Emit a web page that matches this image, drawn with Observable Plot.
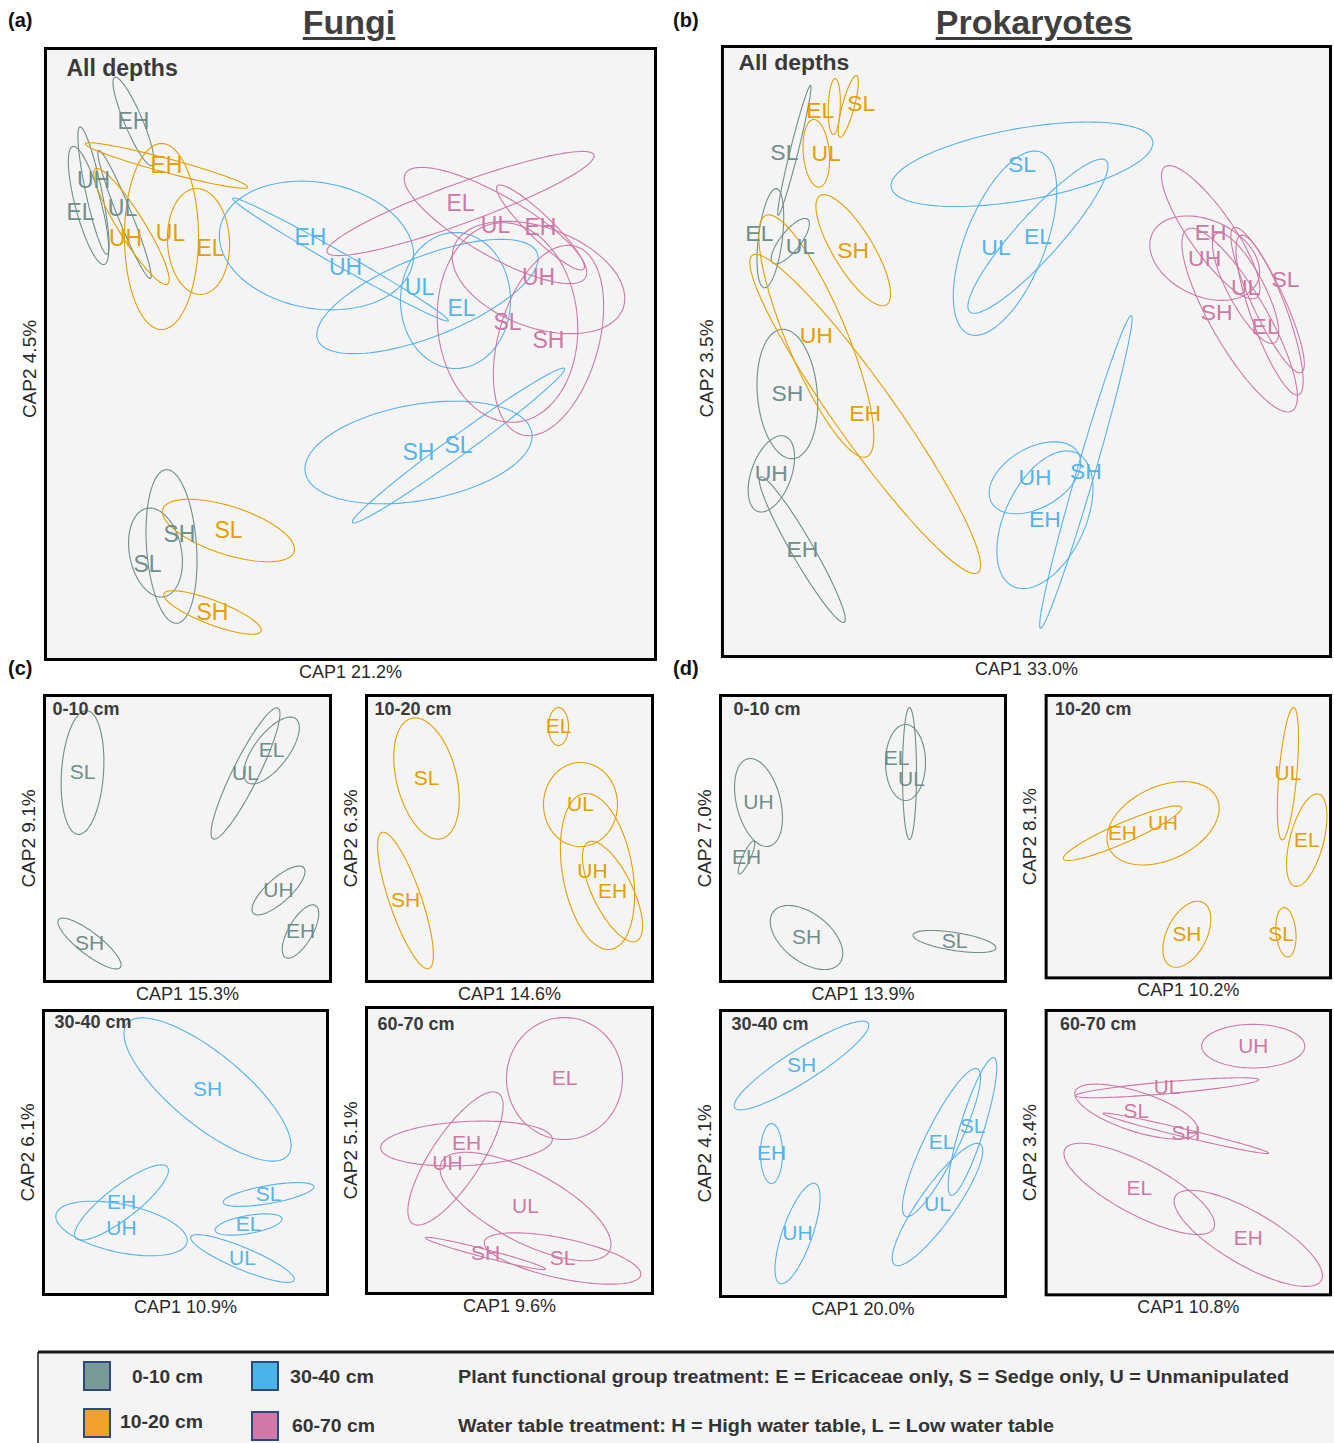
<!DOCTYPE html>
<html><head><meta charset="utf-8">
<script src="https://cdn.jsdelivr.net/npm/d3@7"></script>
<script src="https://cdn.jsdelivr.net/npm/@observablehq/plot@0.6"></script>
<style>
body{margin:0;background:#fff;overflow:hidden;font-family:"Liberation Sans",Arial,sans-serif}
#root{position:relative;width:1334px;height:1443px;overflow:hidden}
.pane{position:absolute}
.title{position:absolute;font-weight:bold;font-size:34px;line-height:1;color:#3f3f3f;text-decoration:underline;text-decoration-thickness:3px;text-underline-offset:3px;transform:translate(-50%,-50%);white-space:nowrap}
.letter{position:absolute;font-weight:bold;font-size:20px;line-height:1;color:#111;transform:translateY(-50%)}
</style></head>
<body><div id="root"></div>
<script>
// ---------- data ----------
const depths = ["0-10 cm", "10-20 cm", "30-40 cm", "60-70 cm"];
const depthColors = ["#6f8f8b", "#e69f00", "#56b4e9", "#cc79a7"];
const swatchColors = ["#789995", "#f0a12a", "#4ab4e8", "#d078a8"];

// ellipse rows (all depths): [depth, group, centroid CAP1, centroid CAP2, semi-major, semi-minor, angle°, label dx, label dy]
const fungiAll = [
  [0,"EH",88,538,48,9,113],
  [0,"UH",48,469,65,8,102,0,10],
  [0,"EL",43,454,61,13,105,-8,-7],
  [0,"UL",79,445,69,7,112,-2,6],
  [0,"SH",126,113,77,25,94,8,12],
  [0,"SL",110,107,45,26,101,-8,-12],
  [1,"EH",121,494,84,7,-15],
  [1,"UL",116,423,93,37,90,9,3],
  [1,"UH",86,433,68,13,122,-6,-12],
  [1,"EL",153,418,53,31,93,12,-7],
  [1,"SL",183,129,69,24,-18],
  [1,"SH",167,47,52,12,-21],
  [2,"EH",271,414,98,63,-10,-6,8],
  [2,"UH",295,400,124,7,-29.6,5,-8],
  [2,"UL",382,363,118,40,21.6,-8,9],
  [2,"EL",410,359,68,55,90,6,-8],
  [2,"SH",373,207,115,48,10],
  [2,"SL",413,214,131,10,36],
  [3,"EL",415,456,142,20,20],
  [3,"UL",450,434,104,30,-30],
  [3,"EH",495,432,60,12,-44],
  [3,"UH",493,382,90,50,-20],
  [3,"SL",462,337,100,70,95],
  [3,"SH",503,319,98,50,74]
];
const prokAll = [
  [0,"SL",72,507,67,4,76,-10,-2],
  [0,"EL",48,419,50,12,83,-11,5],
  [0,"UL",68,416,28,10,51.5,10,-5],
  [0,"SH",65,263,65,30,95],
  [0,"UH",49,183,40,20,70],
  [0,"EH",80,107,84,11,120],
  [1,"EL",112,551,28,6,88,-14,-4],
  [1,"SL",126,551,32,6,75,13,3],
  [1,"UL",94,504,34,13,95,10,0],
  [1,"SH",131,407,64,20,-58.7],
  [1,"UH",94,321,131,30,-67.3],
  [1,"EH",143,243,195,30,-54.6],
  [2,"SL",300,493,133,36,10],
  [2,"UL",283,414,98,40,68.4,-9,-4],
  [2,"EL",316,421,102,22,48],
  [2,"SH",364,185,163,9,73.8],
  [2,"UH",313,179,50,30,30],
  [2,"EH",323,137,74,40,64.5],
  [3,"EH",489,425,80,22,-55],
  [3,"UH",483,399,58,38,-25],
  [3,"UL",524,369,62,18,-62],
  [3,"SL",546,357,80,16,-65,18,20],
  [3,"SH",518,337,105,28,-60,-23,7],
  [3,"EL",548,342,85,18,-70,-4,-12]
];
// single-depth rows: [group, CAP1, CAP2, semi-major, semi-minor, angle°, label dx, label dy]
const fungi0_10 = [
  ["SL",38,209,62,21,86],
  ["UL",201,208,73,13,63.6],
  ["EL",227,231,40,17,52.6],
  ["UH",234,91,34,12,42],
  ["EH",256,50,30,12,60],
  ["SH",45,38,39,11,-37.7]
];
const fungi10_20 = [
  ["EL",192,255,19,10,90],
  ["SL",60,203,62,30,104],
  ["UL",214,177,42,37,90],
  ["UH",231,110,79,35,100,-5,0],
  ["EH",246,90,55,20,116],
  ["SH",39,81,72,16,109]
];
const fungi30_40 = [
  ["SH",164,205,104,36,-39.4],
  ["EH",78,92,58,16,37.7],
  ["UH",78,66,67,24,-12],
  ["SL",225,100,46,9,10],
  ["EL",205,70,34,9,10],
  ["UL",199,36,56,11,-22.7]
];
const fungi60_70 = [
  ["EL",198,215,61,58,90],
  ["EH",100,150,86,22,3],
  ["UH",89,135,78,25,56.7,-8,-5],
  ["UL",159,87,95,35,-28],
  ["SH",119,40,62,4,-14.6],
  ["SL",196,35,80,20,-12]
];
const prok0_10 = [
  ["EL",185,219,38,20,90,-9,4],
  ["UL",189,208,66,7,90,2,-6],
  ["UH",38,179,45,22,104],
  ["EH",26,124,18,4,65.6],
  ["SH",86,44,42,24,-38],
  ["SL",234,40,42,9,-9]
];
const prok10_20 = [
  ["UL",244,206,67,9,85],
  ["EL",263,139,48,17,75.5],
  ["UH",118,156,60,37,25],
  ["EH",77,146,65,10,23.6],
  ["SH",142,44,36,20,63],
  ["SL",242,46,25,10,95,-5,-2]
];
const prok30_40 = [
  ["SH",81,231,79,16,32.3],
  ["EH",51,143,30,11,90],
  ["UH",77,63,53,15,70.7],
  ["EL",221,154,82,17,64],
  ["SL",252,170,72,12,72.7],
  ["UL",217,92,74,18,54.6]
];
const prok60_70 = [
  ["UH",209,251,52,22,0],
  ["UL",122,209,93,6,5],
  ["SL",91,185,65,20,-18],
  ["SH",141,163,86,4,-13.5],
  ["EL",94,107,85,26,-28],
  ["EH",204,57,85,27,-30]
];

const panelTags = ["All depths","All depths","0-10 cm","10-20 cm","30-40 cm","60-70 cm","0-10 cm","10-20 cm","30-40 cm","60-70 cm"];
const cap1Labels = ["CAP1 21.2%","CAP1 33.0%","CAP1 15.3%","CAP1 14.6%","CAP1 10.9%","CAP1 9.6%","CAP1 13.9%","CAP1 10.2%","CAP1 20.0%","CAP1 10.8%"];
const cap2Labels = ["CAP2 4.5%","CAP2 3.5%","CAP2 9.1%","CAP2 6.3%","CAP2 6.1%","CAP2 5.1%","CAP2 7.0%","CAP2 8.1%","CAP2 4.1%","CAP2 3.4%"];
const titles = ["Fungi", "Prokaryotes"];
const letters = ["(a)","(b)","(c)","(d)"];
const legendTexts = ["Plant functional group treatment:  E = Ericaceae  only, S = Sedge only, U = Unmanipulated",
                     "Water table treatment: H = High water table, L = Low water table"];

// ---------- layout ----------
const layout = [
  {rows: fungiAll,   depth: null, L:45,   T:48,   W:610, H:611, big:true,  tx:21, ty:20, ydy:15},
  {rows: prokAll,    depth: null, L:722,  T:46,   W:609, H:611, big:true,  tx:16, ty:16, ydy:17},
  {rows: fungi0_10,  depth: 0, L:44,   T:695,  W:286, H:286, tx:8,  ty:14},
  {rows: fungi10_20, depth: 1, L:366,  T:695,  W:286, H:286, tx:8,  ty:14},
  {rows: fungi30_40, depth: 2, L:43,   T:1010, W:284, H:284, tx:11, ty:12},
  {rows: fungi60_70, depth: 3, L:366,  T:1007, W:286, H:286, tx:11, ty:17},
  {rows: prok0_10,   depth: 0, L:720,  T:695,  W:285, H:286, tx:13, ty:14},
  {rows: prok10_20,  depth: 1, L:1046, T:695,  W:287, H:285, tx:9,  ty:14},
  {rows: prok30_40,  depth: 2, L:720,  T:1010, W:285, H:286, tx:11, ty:14},
  {rows: prok60_70,  depth: 3, L:1046, T:1010, W:287, H:287, tx:14, ty:14}
];

const root = document.getElementById("root");
const FONT = "Liberation Sans, Arial, sans-serif";

function normalize(rows, depth) {
  return rows.map((r, i) => {
    const v = depth === null ? r : [depth, ...r];
    const [d, g, cx, cy, a, b, ang, ldx = 0, ldy = 0] = v;
    return {id: i, depth: depths[d], group: g, cx, cy, a, b, ang, lx: cx + ldx, ly: cy + ldy};
  });
}
function outline(ells) {
  const pts = [], N = 120;
  for (const e of ells) {
    const th = e.ang * Math.PI / 180, c = Math.cos(th), s = Math.sin(th);
    for (let k = 0; k <= N; k++) {
      const t = 2 * Math.PI * k / N;
      pts.push({id: e.id, depth: e.depth,
        x: e.cx + e.a * c * Math.cos(t) - e.b * s * Math.sin(t),
        y: e.cy + e.a * s * Math.cos(t) + e.b * c * Math.sin(t)});
    }
  }
  return pts;
}

layout.forEach((p, i) => {
  const ml = 40, mr = 4, mt = 4, mb = 28;
  const ells = normalize(p.rows, p.depth);
  const chart = Plot.plot({
    width: p.W + ml + mr, height: p.H + mt + mb,
    marginLeft: ml, marginRight: mr, marginTop: mt, marginBottom: mb,
    x: {domain: [0, p.W], axis: null},
    y: {domain: [0, p.H], axis: null},
    color: {domain: depths, range: depthColors},
    style: {background: "transparent", fontFamily: FONT, overflow: "visible"},
    marks: [
      Plot.frame({fill: "#f4f4f4", stroke: "none"}),
      Plot.line(outline(ells), {x: "x", y: "y", z: "id", stroke: "depth", strokeWidth: 1.1, clip: true}),
      Plot.text(ells, {x: "lx", y: "ly", text: "group", fill: "depth", fontSize: p.big ? 23 : 21}),
      Plot.frame({stroke: "#000", strokeWidth: 3}),
      Plot.text([panelTags[i]], {frameAnchor: "top-left", textAnchor: "start", lineAnchor: "middle", dx: p.tx, dy: p.ty,
        fontWeight: "bold", fontSize: p.big ? 23 : 18, fill: "#3a3a3a"}),
      Plot.text([cap1Labels[i]], {frameAnchor: "bottom", lineAnchor: "middle", dy: 13, fontSize: 18, fill: "#2a2a2a"}),
      Plot.text([cap2Labels[i]], {frameAnchor: "left", textAnchor: "middle", lineAnchor: "middle", rotate: -90,
        dx: -16, dy: p.ydy || 0, fontSize: 19, fill: "#2a2a2a"})
    ]
  });
  const div = document.createElement("div");
  div.className = "pane";
  div.style.left = (p.L - ml) + "px";
  div.style.top = (p.T - mt) + "px";
  div.appendChild(chart);
  root.appendChild(div);
});

// titles and panel letters
[[titles[0], 349, 22], [titles[1], 1034, 22]].forEach(([t, x, y]) => {
  const d = document.createElement("div");
  d.className = "title"; d.textContent = t;
  d.style.left = x + "px"; d.style.top = y + "px";
  root.appendChild(d);
});
[[letters[0], 8, 20], [letters[1], 673, 20], [letters[2], 8, 668], [letters[3], 673, 668]].forEach(([t, x, y]) => {
  const d = document.createElement("div");
  d.className = "letter"; d.textContent = t;
  d.style.left = x + "px"; d.style.top = y + "px";
  root.appendChild(d);
});

// legend box
const leg = d3.create("svg").attr("width", 1334).attr("height", 100)
  .style("position", "absolute").style("left", "0px").style("top", "1346px");
leg.append("rect").attr("x", 38).attr("y", 6).attr("width", 1300).attr("height", 100).attr("fill", "#f4f4f4");
leg.append("line").attr("x1", 38).attr("x2", 1334).attr("y1", 6).attr("y2", 6).attr("stroke", "#1a1a1a").attr("stroke-width", 3);
leg.append("line").attr("x1", 38).attr("x2", 38).attr("y1", 6).attr("y2", 100).attr("stroke", "#1a1a1a").attr("stroke-width", 1.5);
const sw = [[84, 1362, 132, 1378, 71], [84, 1409, 120, 1423, 83], [252, 1362, 290, 1378, 84], [252, 1412, 292, 1427, 83]];
sw.forEach(([sx, sy, tx, ty, tl], k) => {
  leg.append("rect").attr("x", sx).attr("y", sy - 1346).attr("width", 26).attr("height", 28)
    .attr("fill", swatchColors[k]).attr("stroke", "#2c4a7c").attr("stroke-width", 2);
  leg.append("text").attr("x", tx).attr("y", ty - 1346).attr("dominant-baseline", "middle")
    .attr("font-family", FONT).attr("font-weight", "bold").attr("font-size", 18).attr("fill", "#333")
    .attr("textLength", tl).attr("lengthAdjust", "spacingAndGlyphs").text(depths[k]);
});
[[legendTexts[0], 1378, 831], [legendTexts[1], 1427, 596]].forEach(([t, y, tl]) => {
  leg.append("text").attr("x", 458).attr("y", y - 1346).attr("dominant-baseline", "middle")
    .attr("font-family", FONT).attr("font-weight", "bold").attr("font-size", 18).attr("fill", "#333")
    .attr("textLength", tl).attr("lengthAdjust", "spacingAndGlyphs").text(t);
});
root.appendChild(leg.node());
</script>
</body></html>
